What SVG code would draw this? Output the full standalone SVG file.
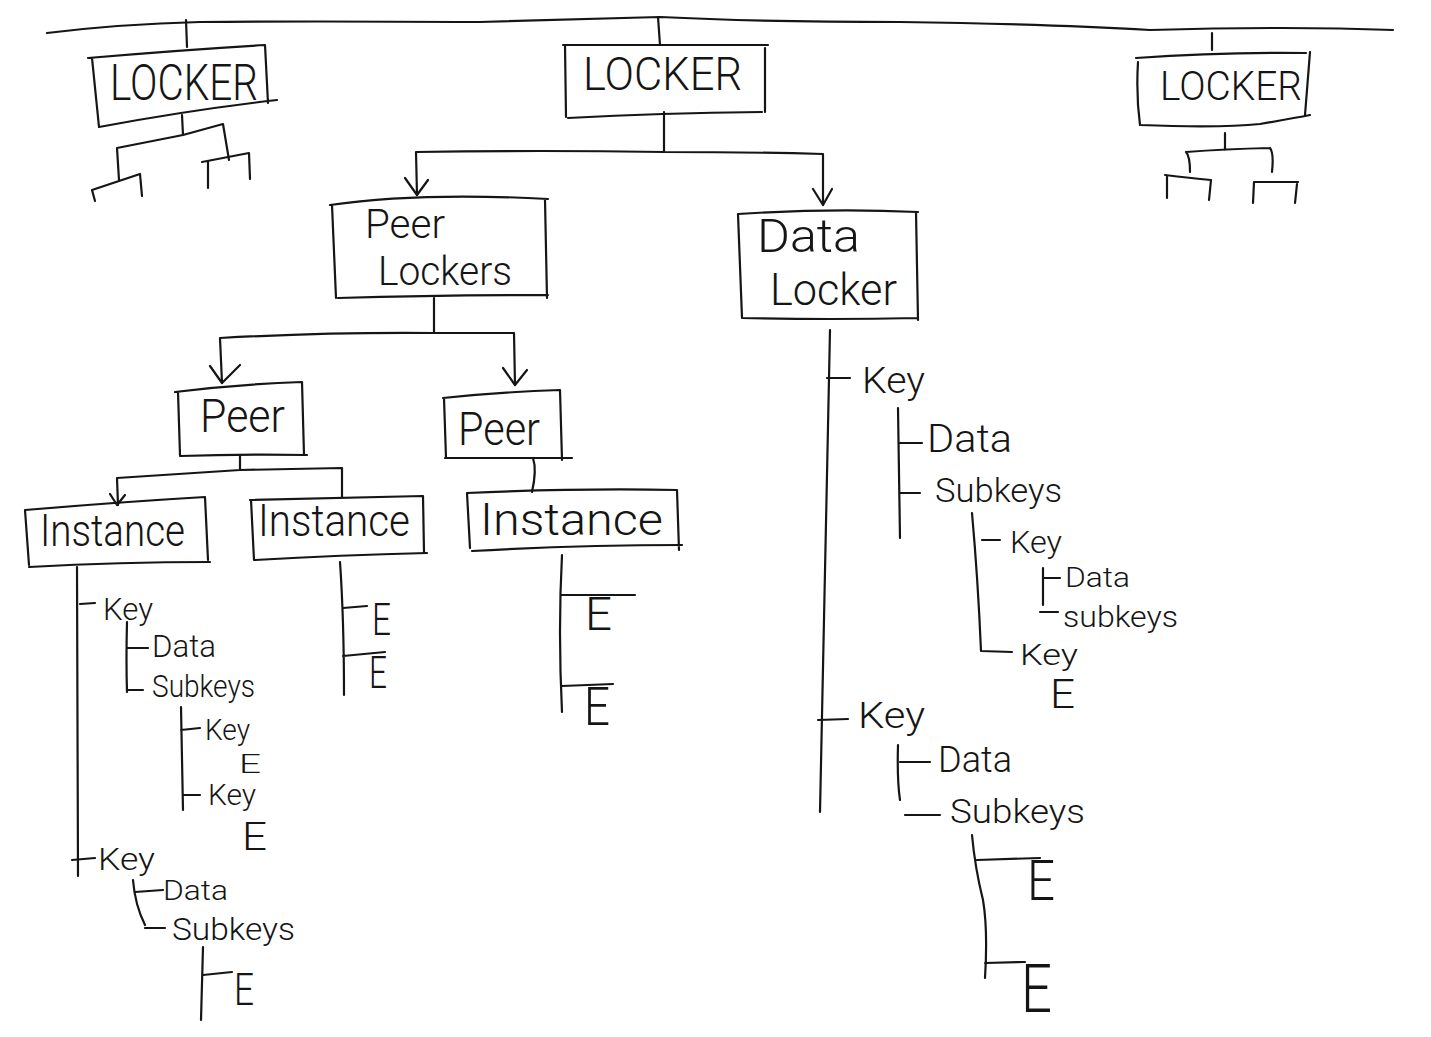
<svg xmlns="http://www.w3.org/2000/svg" width="1431" height="1037" viewBox="0 0 1431 1037">
<style>
.l{fill:none;stroke:#151515;stroke-width:2.2;stroke-linecap:round;stroke-linejoin:round}
.t{font-family:Roboto,"Open Sans","Liberation Sans",sans-serif;fill:#151515;font-weight:300}
</style>
<rect width="1431" height="1037" fill="#ffffff"/>
<g id="connectors" class="l">
<path d="M47,33 Q120,24 200,22 Q300,21 480,22 Q560,20 660,17 Q760,22 900,22 Q1050,24 1150,30 Q1290,26 1393,30"/>
<path d="M186,20 L187,47"/>
<path d="M658,17 L660,45"/>
<path d="M1212,33 L1212,50"/>
<path d="M182,115 L183,135 M117,148 L183,135 L223,124 M117,148 L119,180 M223,124 L229,160"/>
<path d="M92,190 L140,174 M92,190 L95,201 M140,174 L142,196"/>
<path d="M202,162 L249,153 M208,162 L208,188 M249,153 L250,179"/>
<path d="M1225,133 L1225,150 M1186,152 Q1225,149 1270,148 M1186,152 Q1190,156 1190,172 M1270,148 Q1274,153 1272,172"/>
<path d="M1165,175 Q1190,178 1211,180 M1167,177 L1167,198 M1211,180 L1209,200"/>
<path d="M1254,182 L1298,182 M1254,182 L1253,203 M1297,184 L1295,203"/>
<path d="M664,112 L664,152 M416,152 Q540,150 664,152 Q750,152 823,154 M416,152 L417,195 M823,154 L823,205"/>
<path d="M405,178 L417,195 L428,180 M813,189 L823,205 L832,189"/>
<path d="M434,298 L434,333 M220,338 Q330,332 434,333 L514,333 M220,338 L222,383 M514,333 L515,385"/>
<path d="M210,366 L222,383 L240,365 M503,368 L515,385 L527,370"/>
<path d="M240,455 L240,470 M117,478 L240,470 L342,468 M117,478 L118,505 M342,468 L342,497"/>
<path d="M110,494 L117,505 L125,495"/>
<path d="M533,458 Q537,470 532,492"/>
<path d="M77,567 Q77,720 78,876 M80,604 L95,603"/>
<path d="M127,622 Q126,660 127,692 M127,648 L148,648 M127,690 L143,690"/>
<path d="M181,707 Q182,760 183,810 M181,730 L200,728 M183,795 L200,795"/>
<path d="M72,860 L95,858 M133,880 Q135,905 145,925 M135,892 L163,890 M145,928 L165,928"/>
<path d="M203,947 L201,1020 M203,975 L232,972"/>
<path d="M340,562 Q344,620 344,695 M343,608 L367,606 M343,656 L385,652"/>
<path d="M562,555 Q558,630 562,712 M562,595 L635,595 M562,686 L613,684"/>
<path d="M830,330 Q826,560 820,812 M827,378 L850,378"/>
<path d="M898,408 Q899,470 900,538 M900,443 L922,443 M900,493 L920,493"/>
<path d="M972,513 Q978,580 981,651 L1012,652 M982,540 L1000,540"/>
<path d="M1043,568 L1043,605 M1043,578 L1060,578 M1040,612 L1058,612"/>
<path d="M818,720 L848,719 M898,745 Q897,780 900,800 M900,762 L930,762 M905,815 L940,815"/>
<path d="M972,835 Q975,868 983,900 Q988,930 985,978 M977,860 L1040,858 M985,963 L1025,962"/>
</g>
<g id="locker-left">
<path class="l" d="M88,58 Q180,50 265,45 M265,45 L268,103 M99,127 Q190,110 277,100 M92,58 L99,127"/>
<text class="t" x="110" y="100" font-size="50" textLength="148" lengthAdjust="spacingAndGlyphs">LOCKER</text>
</g>
<g id="locker-center">
<path class="l" d="M563,45 L768,45 M765,48 L765,112 M568,118 Q660,113 762,112 M565,45 L566,117"/>
<text class="t" x="583" y="90" font-size="46" textLength="159" lengthAdjust="spacingAndGlyphs">LOCKER</text>
</g>
<g id="locker-right">
<path class="l" d="M1136,58 Q1220,52 1306,53 M1310,52 L1305,115 M1140,125 Q1220,128 1260,124 Q1295,118 1310,115 M1138,62 Q1136,95 1140,125"/>
<text class="t" x="1160" y="100" font-size="40" textLength="142" lengthAdjust="spacingAndGlyphs">LOCKER</text>
</g>
<g id="peer-lockers">
<path class="l" d="M330,205 Q420,192 548,199 M545,200 L547,298 M338,298 Q440,295 548,295 M332,205 L336,298"/>
<text class="t" x="365" y="238" font-size="40" textLength="80" lengthAdjust="spacingAndGlyphs">Peer</text>
<text class="t" x="378" y="285" font-size="40" textLength="134" lengthAdjust="spacingAndGlyphs">Lockers</text>
</g>
<g id="data-locker">
<path class="l" d="M738,214 Q830,208 918,212 M916,212 L918,320 M742,318 Q830,320 918,318 M738,214 L742,318"/>
<text class="t" x="757" y="252" font-size="46" textLength="103" lengthAdjust="spacingAndGlyphs">Data</text>
<text class="t" x="770" y="305" font-size="44" textLength="127" lengthAdjust="spacingAndGlyphs">Locker</text>
</g>
<g id="peer-1">
<path class="l" d="M175,392 Q240,384 302,382 M302,382 L304,455 M180,456 Q240,454 307,455 M178,392 L180,455"/>
<text class="t" x="200" y="432" font-size="46" textLength="85" lengthAdjust="spacingAndGlyphs">Peer</text>
</g>
<g id="peer-2">
<path class="l" d="M443,398 Q500,392 560,390 M560,390 L562,460 M445,458 L572,458 M444,398 L446,458"/>
<text class="t" x="458" y="445" font-size="46" textLength="82" lengthAdjust="spacingAndGlyphs">Peer</text>
</g>
<g id="instance-1">
<path class="l" d="M25,510 Q120,502 205,497 M205,497 L208,560 M29,567 Q120,562 210,562 M25,510 L29,565"/>
<text class="t" x="40" y="546" font-size="44" textLength="145" lengthAdjust="spacingAndGlyphs">Instance</text>
</g>
<g id="instance-2">
<path class="l" d="M250,500 L423,496 M423,496 L424,552 M255,560 Q340,555 427,553 M251,500 L254,560"/>
<text class="t" x="258" y="536" font-size="44" textLength="152" lengthAdjust="spacingAndGlyphs">Instance</text>
</g>
<g id="instance-3">
<path class="l" d="M467,493 Q580,488 677,490 M677,490 L679,550 M472,551 Q580,545 682,545 M467,493 L470,548"/>
<text class="t" x="480" y="535" font-size="44" textLength="183" lengthAdjust="spacingAndGlyphs">Instance</text>
</g>
<g id="i1-tree">
<text class="t" x="103" y="620" font-size="32" textLength="50" lengthAdjust="spacingAndGlyphs">Key</text>
<text class="t" x="152" y="657" font-size="32" textLength="64" lengthAdjust="spacingAndGlyphs">Data</text>
<text class="t" x="152" y="697" font-size="32" textLength="103" lengthAdjust="spacingAndGlyphs">Subkeys</text>
<text class="t" x="205" y="740" font-size="30" textLength="45" lengthAdjust="spacingAndGlyphs">Key</text>
<text class="t" x="239" y="773" font-size="26" textLength="22" lengthAdjust="spacingAndGlyphs">E</text>
<text class="t" x="208" y="805" font-size="30" textLength="48" lengthAdjust="spacingAndGlyphs">Key</text>
<text class="t" x="242" y="850" font-size="38" textLength="25" lengthAdjust="spacingAndGlyphs">E</text>
<text class="t" x="98" y="870" font-size="32" textLength="57" lengthAdjust="spacingAndGlyphs">Key</text>
<text class="t" x="163" y="900" font-size="28" textLength="65" lengthAdjust="spacingAndGlyphs">Data</text>
<text class="t" x="172" y="940" font-size="32" textLength="123" lengthAdjust="spacingAndGlyphs">Subkeys</text>
<text class="t" x="234" y="1005" font-size="44" textLength="20" lengthAdjust="spacingAndGlyphs">E</text>
</g>
<g id="i2-tree">
<text class="t" x="372" y="635" font-size="44" textLength="19" lengthAdjust="spacingAndGlyphs">E</text>
<text class="t" x="369" y="688" font-size="44" textLength="18" lengthAdjust="spacingAndGlyphs">E</text>
</g>
<g id="i3-tree">
<text class="t" x="585" y="630" font-size="46" textLength="27" lengthAdjust="spacingAndGlyphs">E</text>
<text class="t" x="584" y="725" font-size="54" textLength="26" lengthAdjust="spacingAndGlyphs">E</text>
</g>
<g id="data-locker-tree">
<text class="t" x="862" y="393" font-size="36" textLength="63" lengthAdjust="spacingAndGlyphs">Key</text>
<text class="t" x="927" y="452" font-size="38" textLength="85" lengthAdjust="spacingAndGlyphs">Data</text>
<text class="t" x="935" y="502" font-size="34" textLength="127" lengthAdjust="spacingAndGlyphs">Subkeys</text>
<text class="t" x="1010" y="553" font-size="32" textLength="52" lengthAdjust="spacingAndGlyphs">Key</text>
<text class="t" x="1065" y="587" font-size="28" textLength="65" lengthAdjust="spacingAndGlyphs">Data</text>
<text class="t" x="1063" y="627" font-size="30" textLength="115" lengthAdjust="spacingAndGlyphs">subkeys</text>
<text class="t" x="1020" y="665" font-size="30" textLength="58" lengthAdjust="spacingAndGlyphs">Key</text>
<text class="t" x="1050" y="708" font-size="40" textLength="25" lengthAdjust="spacingAndGlyphs">E</text>
<text class="t" x="858" y="728" font-size="36" textLength="67" lengthAdjust="spacingAndGlyphs">Key</text>
<text class="t" x="938" y="772" font-size="36" textLength="74" lengthAdjust="spacingAndGlyphs">Data</text>
<text class="t" x="950" y="823" font-size="34" textLength="135" lengthAdjust="spacingAndGlyphs">Subkeys</text>
<text class="t" x="1027" y="900" font-size="56" textLength="28" lengthAdjust="spacingAndGlyphs">E</text>
<text class="t" x="1021" y="1012" font-size="66" textLength="31" lengthAdjust="spacingAndGlyphs">E</text>
</g>
</svg>
